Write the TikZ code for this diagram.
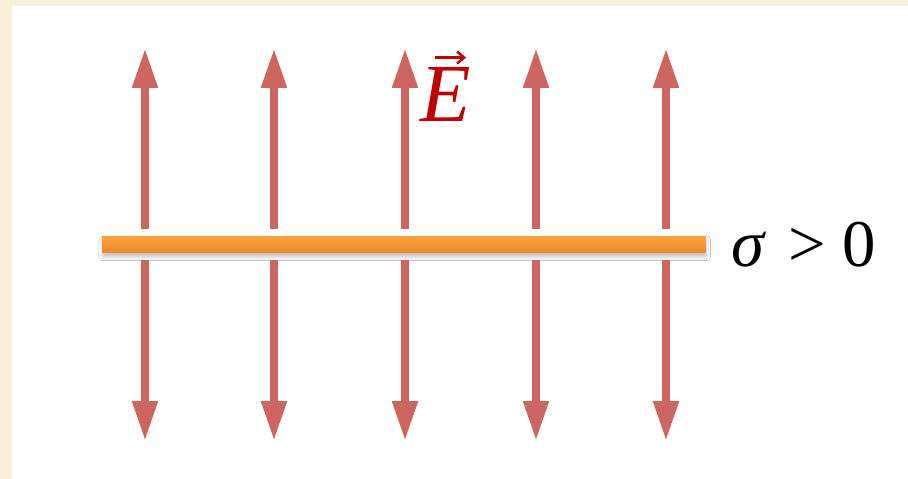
\documentclass[tikz,border=0pt]{standalone}
\usepackage{fontspec}
\setmainfont{Liberation Serif}
\usepackage{tikz}
\usetikzlibrary{arrows.meta, shadows.blur}
\definecolor{fieldred}{RGB}{205, 102, 96}
\definecolor{platetop}{RGB}{251, 162, 62}
\definecolor{platebottom}{RGB}{236, 136, 42}
\definecolor{labelred}{RGB}{192, 0, 0}
\definecolor{paper}{RGB}{249, 239, 219}

\begin{document}
\begin{tikzpicture}[x=0.02cm, y=-0.02cm,
          plate/.style={rectangle, top color=platetop, bottom color=platebottom, minimum width=12.08cm, minimum height=0.34cm, inner sep=0pt, draw=none, blur shadow={shadow xshift=0.4pt, shadow yshift=-2.2pt, shadow blur radius=2.2pt, shadow opacity=25}},
          field/.style={line width=0.16cm, fieldred, -{Triangle[length=0.8cm, width=0.48cm]}},
          vecarrow/.style={line width=0.05cm, labelred, -{Straight Barb[length=0.14cm, width=0.24cm]}},
          label/.style={anchor=base west, inner sep=0pt}
        ]
          % Background
          \fill[paper] (0,0) rectangle (908,479);
          \fill[white] (12,6) rectangle (908,479);
          \useasboundingbox (0,0) rectangle (908,479);

          % Charged Plate
          \node[plate] (plate) at (404,244.5) {};

          % Field Lines
          \foreach \xpos [count=\i] in {145, 274, 405, 536, 666} {
            \coordinate (upfoot\i) at (\xpos, 229);
            \coordinate (uptip\i) at (\xpos, 48);
            \coordinate (downfoot\i) at (\xpos, 260);
            \coordinate (downtip\i) at (\xpos, 441);
            \draw[field] (upfoot\i) -- (uptip\i);
            \draw[field] (downfoot\i) -- (downtip\i);
          }

          % Labels
          \node[label, labelred, font=\fontsize{47}{50}\selectfont] (efield) at (420,122) {\itshape E};
          \coordinate (vecfoot) at ([xshift=0.3cm, yshift=0.2cm]efield.north west);
          \coordinate (vectip) at ([xshift=0.92cm, yshift=0.2cm]efield.north west);
          \draw[vecarrow] (vecfoot) -- (vectip);
          \node[label, font=\fontsize{38}{40}\selectfont] (density) at (731,266) {{\itshape σ}\hspace{4pt} > 0};
        \end{tikzpicture}
\end{document}
